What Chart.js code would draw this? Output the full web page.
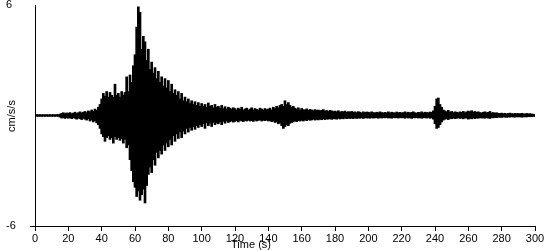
<!DOCTYPE html>
<html>
<head>
<meta charset="utf-8">
<script src="https://cdn.jsdelivr.net/npm/chart.js@4"></script>
<style>
  html, body { margin: 0; padding: 0; background: #fff; }
  #wrap { width: 550px; height: 250px; }
</style>
</head>
<body>
<div id="wrap"><canvas id="sismo" width="550" height="250"></canvas></div>
<script>
// DATOS: picos superiores e inferiores por segundo (cm/s/s), t = 0..300
var tiempos = [];
for (var i = 0; i <= 300; i++) tiempos.push(i);

var picosArriba = [
  0.04,0.05,0.04,0.05,0.04,0.05,0.04,0.05,0.04,0.05,
  0.04,0.05,0.04,0.05,0.05,0.08,0.12,0.15,0.1,0.14,
  0.12,0.16,0.1,0.13,0.18,0.12,0.15,0.2,0.14,0.18,
  0.22,0.16,0.25,0.2,0.3,0.22,0.35,0.28,0.45,0.6,
  0.9,1.2,1.05,1.3,1.0,1.25,1.1,1.0,1.7,1.1,
  1.2,1.0,1.3,1.1,1.25,2.1,1.3,2.2,1.8,2.7,
  3.3,4.8,5.9,5.6,3.6,4.3,4.0,3.0,3.6,2.5,
  2.9,2.3,2.6,2.0,2.4,1.8,2.1,1.6,2.0,1.5,
  1.9,1.3,1.7,1.2,1.4,1.1,1.3,0.9,1.2,0.8,
  1.0,0.75,0.9,0.65,0.8,0.6,0.75,0.55,0.7,0.5,
  0.65,0.5,0.6,0.45,0.68,0.5,0.55,0.42,0.6,0.45,
  0.5,0.4,0.55,0.38,0.48,0.35,0.45,0.4,0.35,0.42,
  0.38,0.3,0.4,0.33,0.45,0.3,0.36,0.4,0.3,0.35,
  0.42,0.3,0.38,0.33,0.3,0.4,0.35,0.3,0.38,0.32,
  0.35,0.4,0.3,0.45,0.38,0.5,0.42,0.55,0.6,0.5,
  0.8,0.6,0.7,0.55,0.45,0.5,0.4,0.35,0.42,0.3,
  0.38,0.32,0.3,0.36,0.28,0.33,0.3,0.26,0.32,0.28,
  0.3,0.25,0.28,0.32,0.24,0.27,0.22,0.28,0.25,0.22,
  0.24,0.2,0.26,0.18,0.22,0.2,0.24,0.17,0.21,0.19,
  0.22,0.18,0.2,0.16,0.21,0.18,0.15,0.2,0.17,0.19,
  0.18,0.15,0.2,0.16,0.14,0.18,0.15,0.2,0.16,0.14,
  0.17,0.15,0.2,0.14,0.18,0.16,0.13,0.19,0.15,0.17,
  0.14,0.16,0.2,0.15,0.18,0.14,0.17,0.2,0.15,0.13,
  0.17,0.15,0.2,0.14,0.18,0.16,0.15,0.19,0.17,0.25,
  0.5,0.9,0.95,0.6,0.45,0.3,0.25,0.2,0.28,0.18,
  0.22,0.16,0.2,0.18,0.15,0.2,0.17,0.22,0.15,0.2,
  0.24,0.2,0.26,0.18,0.22,0.17,0.2,0.16,0.14,0.18,
  0.2,0.15,0.17,0.22,0.14,0.16,0.13,0.15,0.12,0.11,
  0.13,0.1,0.12,0.09,0.11,0.13,0.1,0.09,0.12,0.1,
  0.11,0.09,0.12,0.1,0.08,0.11,0.09,0.1,0.08,0.07,
  0.05
];

var picosAbajo = [
  -0.05,-0.04,-0.05,-0.04,-0.05,-0.04,-0.05,-0.04,-0.05,-0.04,
  -0.05,-0.04,-0.05,-0.04,-0.05,-0.09,-0.14,-0.12,-0.16,-0.11,
  -0.15,-0.12,-0.17,-0.13,-0.15,-0.2,-0.14,-0.18,-0.22,-0.16,
  -0.2,-0.25,-0.18,-0.3,-0.24,-0.35,-0.28,-0.4,-0.5,-0.7,
  -1.0,-1.15,-1.4,-1.2,-1.1,-1.3,-1.2,-1.5,-1.15,-1.3,
  -1.2,-1.35,-1.25,-1.5,-1.3,-1.75,-1.6,-2.4,-3.0,-3.6,
  -3.9,-4.4,-4.1,-4.6,-4.3,-4.0,-4.75,-3.8,-3.2,-2.8,
  -3.1,-2.4,-2.7,-2.0,-2.3,-1.9,-2.1,-1.6,-1.9,-1.5,
  -1.7,-1.3,-1.6,-1.1,-1.4,-1.0,-1.25,-0.9,-1.2,-0.85,
  -1.0,-0.7,-0.9,-0.65,-0.8,-0.6,-0.75,-0.55,-0.65,-0.5,
  -0.6,-0.45,-0.7,-0.4,-0.55,-0.42,-0.6,-0.38,-0.5,-0.4,
  -0.45,-0.35,-0.5,-0.32,-0.42,-0.3,-0.38,-0.34,-0.3,-0.36,
  -0.32,-0.28,-0.35,-0.26,-0.3,-0.33,-0.27,-0.3,-0.25,-0.3,
  -0.28,-0.32,-0.25,-0.3,-0.27,-0.24,-0.3,-0.26,-0.28,-0.25,
  -0.3,-0.27,-0.33,-0.3,-0.38,-0.35,-0.45,-0.4,-0.55,-0.7,
  -0.6,-0.5,-0.55,-0.42,-0.38,-0.35,-0.3,-0.33,-0.28,-0.3,
  -0.26,-0.3,-0.24,-0.28,-0.22,-0.26,-0.24,-0.2,-0.25,-0.22,
  -0.24,-0.2,-0.23,-0.18,-0.22,-0.19,-0.2,-0.17,-0.21,-0.18,
  -0.18,-0.2,-0.15,-0.19,-0.16,-0.18,-0.14,-0.17,-0.15,-0.16,
  -0.15,-0.17,-0.13,-0.16,-0.14,-0.15,-0.13,-0.16,-0.12,-0.14,
  -0.13,-0.15,-0.12,-0.14,-0.13,-0.12,-0.15,-0.11,-0.14,-0.12,
  -0.13,-0.11,-0.14,-0.12,-0.15,-0.11,-0.13,-0.12,-0.14,-0.11,
  -0.13,-0.12,-0.15,-0.11,-0.14,-0.12,-0.16,-0.12,-0.13,-0.11,
  -0.14,-0.12,-0.15,-0.13,-0.12,-0.14,-0.11,-0.15,-0.13,-0.2,
  -0.45,-0.7,-0.65,-0.5,-0.35,-0.25,-0.2,-0.18,-0.22,-0.15,
  -0.18,-0.14,-0.17,-0.15,-0.13,-0.16,-0.14,-0.18,-0.13,-0.15,
  -0.2,-0.16,-0.18,-0.14,-0.17,-0.13,-0.15,-0.12,-0.14,-0.13,
  -0.15,-0.12,-0.14,-0.16,-0.11,-0.13,-0.1,-0.12,-0.09,-0.1,
  -0.1,-0.08,-0.09,-0.1,-0.08,-0.09,-0.07,-0.08,-0.09,-0.07,
  -0.08,-0.07,-0.09,-0.08,-0.07,-0.08,-0.06,-0.07,-0.06,-0.05,
  -0.05
];

var ticksX = [0,20,40,60,80,100,120,140,160,180,200,220,240,260,280,300];
var ticksY = [-6, 6];
var tituloX = 'Time (s)';
var tituloY = 'cm/s/s';

// cada segundo una barra flotante de pico abajo a pico arriba
var barras = tiempos.map(function(t, k) {
  return {x: t, y: [picosAbajo[k], picosArriba[k]]};
});

var fuente = {family: "'Liberation Sans', Arial, sans-serif", size: 11};

var titulos = {
  id: 'titulos',
  afterDraw: function(chart) {
    var ctx = chart.ctx;
    ctx.save();
    ctx.fillStyle = '#000';
    ctx.font = "11px 'Liberation Sans', Arial, sans-serif";
    ctx.textAlign = 'center';
    ctx.textBaseline = 'middle';
    ctx.fillText(tituloX, 251, 245);
    ctx.translate(12, 116);
    ctx.rotate(-Math.PI / 2);
    ctx.fillText(tituloY, 0, 0);
    ctx.restore();
  }
};

var ctxSismo = document.getElementById('sismo').getContext('2d');
var grafico = new Chart(ctxSismo, {
  type: 'bar',
  data: {
    datasets: [{
      data: barras,
      backgroundColor: '#000',
      borderWidth: 0,
      barThickness: 2,
      grouped: false
    }]
  },
  options: {
    responsive: false,
    animation: false,
    events: [],
    layout: {padding: {top: 5, right: 15, left: 6, bottom: 0}},
    plugins: {legend: {display: false}, tooltip: {enabled: false}},
    scales: {
      x: {
        type: 'linear',
        min: 0, max: 300,
        offset: false,
        afterBuildTicks: function(s) { s.ticks = ticksX.map(function(v){ return {value: v}; }); },
        afterFit: function(s) { s.height = 24; s.paddingLeft = 0; s.paddingRight = 0; },
        ticks: {color: '#000', font: fuente, padding: 1, maxRotation: 0, autoSkip: false},
        grid: {drawOnChartArea: false, drawTicks: true, tickLength: 5, color: '#000', offset: false},
        border: {color: '#000', width: 1}
      },
      y: {
        type: 'linear',
        min: -6, max: 6,
        afterBuildTicks: function(s) { s.ticks = ticksY.map(function(v){ return {value: v}; }); },
        afterFit: function(s) { s.width = 29; s.paddingTop = 0; s.paddingBottom = 0; },
        ticks: {color: '#000', font: fuente, padding: 4, autoSkip: false, crossAlign: 'far'},
        grid: {
          drawOnChartArea: false, drawTicks: true, tickLength: 5,
          color: function(c) { return c.tick && c.tick.value < 0 ? '#000' : 'rgba(0,0,0,0)'; }
        },
        border: {color: '#000', width: 1}
      }
    }
  },
  plugins: [titulos]
});
</script>
</body>
</html>
